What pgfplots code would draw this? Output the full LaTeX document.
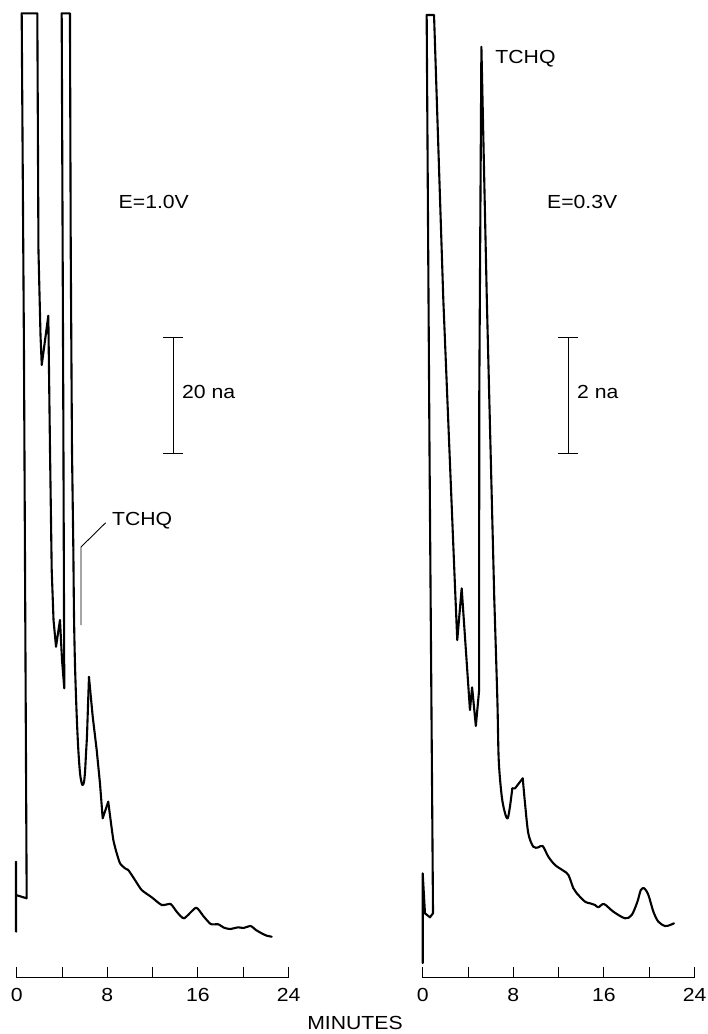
\documentclass[border=0pt]{standalone}
\usepackage{fontspec}
\setmainfont{Liberation Sans}
\usepackage{pgfplots}
\pgfplotsset{compat=1.18}
\newcommand\lf{\fontsize{9.5}{11.4}\selectfont}
\pgfplotsset{chrom/.style={
  x=5.665bp, y=0.5bp, anchor=south west,
  xmin=0, xmax=24, ymin=0, ymax=965,
  axis x line*=bottom, axis y line=none,
  x axis line style={-, line width=0.5bp},
  xtick={0,4,...,24}, xticklabels={0,,8,,16,,24},
  tick align=inside, major tick length=5.5bp,
  every tick/.style={black, line width=0.5bp},
  xticklabel style={font=\lf, xscale=1.12, yshift=-2bp},
  clip=false,
},
trace/.style={black, line width=1.05bp, line join=round, line cap=round, mark=none}}
\begin{document}
\begin{tikzpicture}
\path[use as bounding box] (0,0) rectangle (354bp,-517bp);
% left chromatogram, E=1.0V
\begin{axis}[chrom, at={(8.35bp,-488.85bp)}]
\addplot[trace] coordinates {
(-0.06,46) (-0.06,116) (-0.06,82.7) (0.88,79.4) (0.64,627.7) (0.44,964.4)
(1.82,964.4) (1.92,727.7) (2.10,642.7) (2.21,612.7) (2.79,662) (2.94,527.7)
(3.09,407.7) (3.25,357.7) (3.47,331) (3.82,357.7) (4.00,317.7) (4.20,289.4)
(4.11,577.7) (3.97,964.4) (4.70,964.4) (4.77,727.7) (4.88,527.7) (5.00,427.7)
};
\addplot[trace, smooth, tension=0.5] coordinates {
(5.00,427.7) (5.06,361) (5.15,311) (5.30,261) (5.44,227.7) (5.59,204.4) (5.74,194.4)
(5.83,192.7) (5.94,195.7) (6.03,205.7) (6.12,224.7) (6.20,241) (6.29,271)
(6.38,300.7)
};
\addplot[trace] coordinates {
(6.38,300.7) (6.51,284.7) (6.71,261) (7.06,227.7) (7.35,194.4) (7.59,159.4)
(8.08,176)
};
\addplot[trace, smooth, tension=0.35] coordinates {
(8.08,176) (8.23,162.7) (8.53,137.7) (8.83,124.4) (9.12,114.4) (9.56,109.4)
(9.85,107.7) (10.44,97.7) (11.03,87.7) (11.92,80.4) (12.80,72.7) (13.59,73.7)
(14.12,66) (14.77,59.4) (15.83,70) (16.47,61.7) (17.12,53.7) (17.79,53.4)
(18.30,50) (18.83,48.7) (19.56,50.4) (20.00,49.7) (20.65,51.7) (21.12,47.7)
(21.62,44.4) (22.07,42) (22.51,41)
};
\end{axis}
% right chromatogram, E=0.3V
\begin{axis}[chrom, at={(211.35bp,-488.85bp)}]
\addplot[trace] coordinates {
(0,14.7) (0,104.4) (0.20,64.4) (0.64,60.4) (0.91,64.4) (0.60,527.7) (0.35,962.7)
(1.00,962.7) (1.82,677.7) (2.85,391) (3.05,337.7) (3.44,389.4) (4.17,267.7)
(4.36,290.4) (4.69,251.7) (4.98,287.7) (4.99,577.7) (5.18,931) (5.66,677.7)
(6.32,377.7)
};
\addplot[trace, smooth, tension=0.5] coordinates {
(6.32,377.7) (6.59,277.7) (6.71,217.7) (6.98,181) (7.27,164.4) (7.50,159.4)
(7.70,171) (7.91,189.4)
};
\addplot[trace] coordinates {
(7.91,189.4) (8.15,189.4) (8.83,199.4)
};
\addplot[trace, smooth, tension=0.5] coordinates {
(8.83,199.4) (9.03,174.4) (9.32,144.4)
(9.76,131) (10.21,130.4) (10.59,131.7) (11.09,121) (11.68,112.7) (12.42,107)
(12.86,102.7) (13.30,89.4) (13.60,84.4) (14.33,76) (14.77,74.4) (15.21,72.7)
(15.50,70.4) (16.00,73.7) (16.83,66) (17.86,59.4) (18.45,62.7) (18.95,76)
(19.25,87.7) (19.56,89.4) (19.92,82.7) (20.36,66) (20.80,56) (21.39,51.7)
(21.83,52.7) (22.18,54.4)
};
\end{axis}
% annotations
\node[anchor=base west, inner sep=0, font=\lf, xscale=1.12] at (59.15bp,-104.15bp) {E=1.0V};
\node[anchor=base west, inner sep=0, font=\lf, xscale=1.12] at (273.35bp,-104.15bp) {E=0.3V};
\node[anchor=base west, inner sep=0, font=\lf, xscale=1.12] at (90.85bp,-199.15bp) {20 na};
\node[anchor=base west, inner sep=0, font=\lf, xscale=1.12] at (288.35bp,-199.15bp) {2 na};
\node[anchor=base west, inner sep=0, font=\lf, xscale=1.12] at (55.85bp,-262.5bp) {TCHQ};
\node[anchor=base west, inner sep=0, font=\lf, xscale=1.12] at (247.5bp,-31.5bp) {TCHQ};
\node[anchor=base, inner sep=0, font=\lf, xscale=1.12] at (177.5bp,-514.5bp) {MINUTES};
% scale bars
\draw[line width=0.6bp] (86.65bp,-168.85bp) -- (86.65bp,-226.65bp);
\draw[line width=0.6bp] (81.65bp,-168.85bp) -- (91.65bp,-168.85bp);
\draw[line width=0.6bp] (81.65bp,-226.65bp) -- (91.65bp,-226.65bp);
\draw[line width=0.6bp] (284.15bp,-168.85bp) -- (284.15bp,-226.65bp);
\draw[line width=0.6bp] (279.15bp,-168.85bp) -- (289.15bp,-168.85bp);
\draw[line width=0.6bp] (279.15bp,-226.65bp) -- (289.15bp,-226.65bp);
% TCHQ leader
\draw[line width=0.45bp] (40.5bp,-312.5bp) -- (40.5bp,-273.5bp) -- (52.85bp,-261.35bp);
\end{tikzpicture}
\end{document}
